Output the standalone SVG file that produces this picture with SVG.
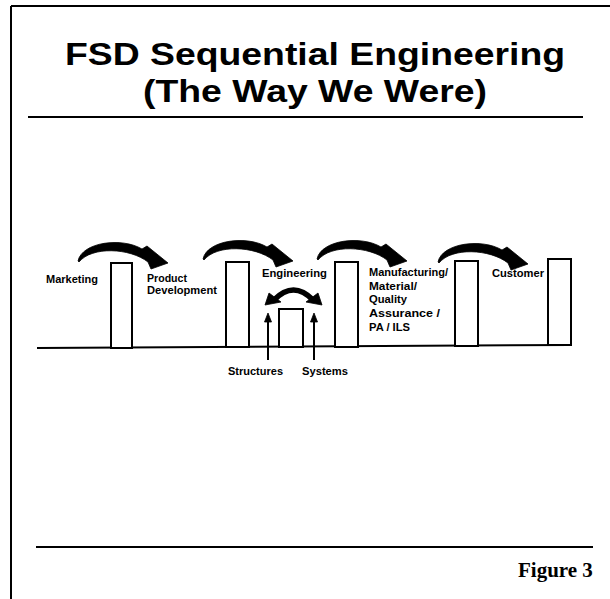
<svg xmlns="http://www.w3.org/2000/svg" width="610" height="599" viewBox="0 0 610 599">
<defs>
<style>
.ln{stroke:#000;stroke-width:2;fill:none}
.box{stroke:#000;stroke-width:2;fill:#fff}
.title{font-family:"Liberation Sans",Arial,sans-serif;font-weight:bold;font-size:32px;fill:#000}
.lbl{font-family:"Liberation Sans",Arial,sans-serif;font-weight:bold;font-size:10px;fill:#000}
.fig{font-family:"Liberation Serif","Times New Roman",serif;font-weight:bold;font-size:21px;fill:#000}
.ar{fill:#000;stroke:#000;stroke-width:0.8;stroke-linejoin:round}
</style>
<path id="curv" d="M0,0 C4,-19 44,-24 64,-12 L69,-15 L90,2 L73,8 L70,1 C52,-13 14,-15 1,1 Z"/>
</defs>
<rect width="610" height="599" fill="#fff"/>
<g id="frame">
<line class="ln" x1="11" y1="6" x2="610" y2="6"/>
<line class="ln" x1="11" y1="6" x2="11" y2="599"/>
<line class="ln" x1="28" y1="117" x2="583" y2="117"/>
<line class="ln" x1="36" y1="547" x2="593" y2="547"/>
</g>
<g id="title">
<text class="title" x="65" y="65" textLength="500" lengthAdjust="spacingAndGlyphs">FSD Sequential Engineering</text>
<text class="title" x="143" y="102" textLength="344" lengthAdjust="spacingAndGlyphs">(The Way We Were)</text>
</g>
<g id="ground">
<line class="ln" x1="37" y1="348" x2="571" y2="345"/>
</g>
<g id="marketing">
<rect class="box" x="111" y="263" width="21" height="85"/>
<text class="lbl" x="46" y="283" textLength="52" lengthAdjust="spacingAndGlyphs">Marketing</text>
</g>
<g id="product-development">
<rect class="box" x="226" y="262" width="23" height="85"/>
<text class="lbl" x="147" y="282" textLength="40" lengthAdjust="spacingAndGlyphs">Product</text>
<text class="lbl" x="147" y="294" textLength="70" lengthAdjust="spacingAndGlyphs">Development</text>
</g>
<g id="engineering">
<rect class="box" x="279" y="309" width="24" height="38"/>
<text class="lbl" x="262" y="277" textLength="65" lengthAdjust="spacingAndGlyphs">Engineering</text>
</g>
<g id="manufacturing">
<rect class="box" x="335" y="262" width="23" height="85"/>
<text class="lbl" x="369" y="276" textLength="79" lengthAdjust="spacingAndGlyphs">Manufacturing/</text>
<text class="lbl" x="369" y="289.5" textLength="48" lengthAdjust="spacingAndGlyphs">Material/</text>
<text class="lbl" x="369" y="303" textLength="38" lengthAdjust="spacingAndGlyphs">Quality</text>
<text class="lbl" x="369" y="317" textLength="71" lengthAdjust="spacingAndGlyphs">Assurance /</text>
<text class="lbl" x="369" y="331" textLength="41" lengthAdjust="spacingAndGlyphs">PA / ILS</text>
</g>
<g id="customer">
<rect class="box" x="455" y="261" width="23" height="85"/>
<text class="lbl" x="492" y="277" textLength="52" lengthAdjust="spacingAndGlyphs">Customer</text>
</g>
<g id="end-box">
<rect class="box" x="548" y="259" width="23" height="86"/>
</g>
<g id="structures">
<text class="lbl" x="228" y="375" textLength="55" lengthAdjust="spacingAndGlyphs">Structures</text>
</g>
<g id="systems">
<text class="lbl" x="302" y="375" textLength="46" lengthAdjust="spacingAndGlyphs">Systems</text>
</g>
<g id="connectors">
<use href="#curv" class="ar" transform="translate(78,261)"/>
<use href="#curv" class="ar" transform="translate(203,259)"/>
<use href="#curv" class="ar" transform="translate(317,259)"/>
<use href="#curv" class="ar" transform="translate(438,262)"/>
<path d="M274,300 Q293.5,280 313,300" stroke="#000" stroke-width="5.5" fill="none"/>
<polygon class="ar" points="265,305 269,293 281,302"/>
<polygon class="ar" points="322,305 318,293 306,302"/>
<line class="ln" x1="268" y1="360" x2="268" y2="320"/>
<polygon class="ar" points="268,313 264.5,322 271.5,322"/>
<line class="ln" x1="314" y1="360" x2="314" y2="320"/>
<polygon class="ar" points="314,313 310.5,322 317.5,322"/>
</g>
<g id="caption">
<text class="fig" x="518" y="577">Figure 3</text>
</g>
</svg>
